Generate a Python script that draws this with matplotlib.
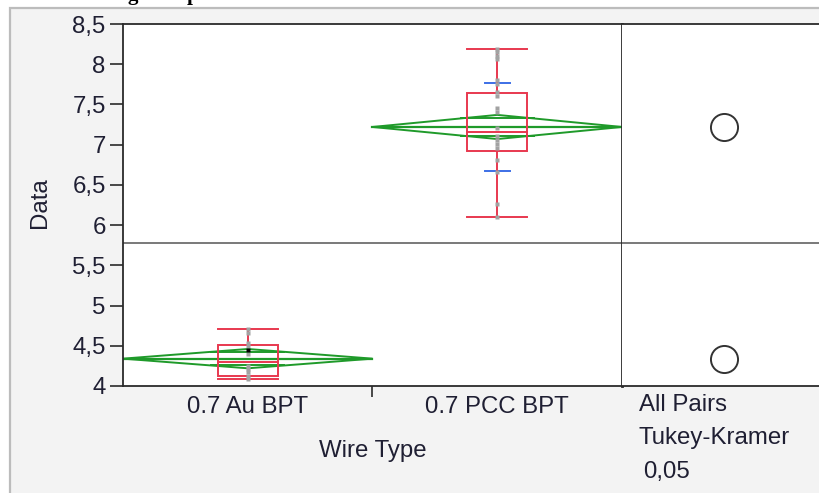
import matplotlib.pyplot as plt
from matplotlib.patches import Rectangle, Polygon
import numpy as np

plt.rcParams['font.family'] = ['Liberation Sans', 'DejaVu Sans']

groups = ['0.7 Au BPT', '0.7 PCC BPT']

# raw points
au_points = [4.71, 4.66, 4.53, 4.50, 4.40, 4.25, 4.21, 4.17, 4.13, 4.09]
au_selected = [4.45]
pcc_points = [8.19, 8.15, 8.10, 8.06, 7.81, 7.76, 7.66, 7.60, 7.46, 7.41,
              7.21, 7.11, 7.06, 7.01, 6.96, 6.81, 6.66, 6.26, 6.10]

# summary stats per group
means = [4.34, 7.22]
ci_half = [0.12, 0.15]
sd = [None, 0.55]   # std dev marks only visible for PCC
q1 = [4.12, 6.92]
median = [4.30, 7.16]
q3 = [4.51, 7.64]
whisk_lo = [4.09, 6.10]
whisk_hi = [4.71, 8.19]
grand_mean = 5.78

yticks = np.arange(4, 8.51, 0.5)
side_text = ['All Pairs', 'Tukey-Kramer', '0,05']

W, H = 820, 493
txt = '#1f1f33'
green = '#1f9a2a'
red = '#e8384f'
blue = '#3d6fe6'
fs = 17.3


def box(x0, y0, x1, y1):
    # pixel box (top-left origin) -> figure fraction rect
    return [x0 / W, 1 - y1 / H, (x1 - x0) / W, (y1 - y0) / H]


fig = plt.figure(figsize=(W / 100, H / 100), dpi=100)
fig.patch.set_facecolor('white')
fig.add_artist(Rectangle((10 / W, -0.02), 1.0, 1 - 8 / H + 0.02, transform=fig.transFigure,
                         facecolor='#f3f3f3', edgecolor='#bcbcbc', linewidth=1.6, zorder=0))

# cut-off report title, only descenders visible
fig.text(133 / W, 1.0, 'g', fontsize=15, fontweight='bold', family='Liberation Serif',
         ha='center', va='baseline', color='black')
fig.text(193 / W, 1.0, 'p', fontsize=15, fontweight='bold', family='Liberation Serif',
         ha='center', va='baseline', color='black')

ax = fig.add_axes(box(123, 24, 622, 386))
ax2 = fig.add_axes(box(622, 24, 826, 386))
for a in (ax, ax2):
    a.set_facecolor('white')
    a.set_ylim(4, 8.5)
    for s in a.spines.values():
        s.set_color('#2a2a2a')
        s.set_linewidth(1.3)
    a.axhline(grand_mean, color='#555555', lw=1.1, zorder=1)

ax.set_xlim(0, 2)
ax.spines['right'].set_linewidth(2)
ax2.spines['left'].set_visible(False)
ax2.spines['right'].set_visible(False)
ax2.set_xlim(0, 1)
ax2.set_xticks([])
ax2.set_yticks([])

for i, g in enumerate(groups):
    c = i + 0.5
    m, h = means[i], ci_half[i]
    # means diamond
    ax.add_patch(Polygon([[i, m], [c, m + h], [i + 1, m], [c, m - h]], closed=True,
                         fill=False, edgecolor=green, lw=1.4, zorder=2))
    ax.plot([i, i + 1], [m, m], color=green, lw=1.6, zorder=2)
    k = h / np.sqrt(2)
    hw = 0.5 * (1 - 1 / np.sqrt(2))
    for yy in (m + k, m - k):
        ax.plot([c - hw, c + hw], [yy, yy], color=green, lw=1.4, zorder=2)
    # std dev marks
    if sd[i] is not None:
        for yy in (m + sd[i], m - sd[i]):
            ax.plot([c - 0.05, c + 0.05], [yy, yy], color=blue, lw=1.4, zorder=3)
    # box plot
    bw = 0.12
    ax.add_patch(Rectangle((c - bw, q1[i]), 2 * bw, q3[i] - q1[i], fill=False,
                           edgecolor=red, lw=1.4, zorder=4))
    ax.plot([c - bw, c + bw], [median[i], median[i]], color=red, lw=1.4, zorder=4)
    ax.plot([c, c], [q3[i], whisk_hi[i]], color=red, lw=1.4, zorder=4)
    ax.plot([c, c], [q1[i], whisk_lo[i]], color=red, lw=1.4, zorder=4)
    for yy in (whisk_lo[i], whisk_hi[i]):
        ax.plot([c - bw, c + bw], [yy, yy], color=red, lw=1.4, zorder=4)

ax.plot([0.5] * len(au_points), au_points, 's', ms=3.2, color='#a2a2a2', mec='none', zorder=5)
ax.plot([0.5] * len(au_selected), au_selected, 's', ms=3.2, color='black', mec='none', zorder=5)
ax.plot([1.5] * len(pcc_points), pcc_points, 's', ms=3.2, color='#a2a2a2', mec='none', zorder=5)

# comparison circles
ax2.plot([0.5, 0.5], means, 'o', ms=19.5, mfc='none', mec='#333333', mew=1.4, clip_on=False)

ax.set_yticks(yticks)
ax.set_yticklabels([f'{v:g}'.replace('.', ',') for v in yticks])
ax.tick_params(axis='y', direction='out', length=9.5, width=1.2, pad=3,
               labelsize=fs, labelcolor=txt, color='#2a2a2a')
ax.set_xticks([1])
ax.set_xticklabels([''])
ax.set_xticks([0.5, 1.5], minor=True)
ax.set_xticklabels(groups, minor=True)
ax.tick_params(axis='x', which='major', direction='out', length=8, width=1.2, color='#2a2a2a')
ax.tick_params(axis='x', which='minor', length=0, pad=7, labelsize=fs, labelcolor=txt)

fig.text(373 / W, 1 - 451 / H, 'Wire Type', fontsize=fs, color=txt, ha='center', va='center')
fig.text(40 / W, 1 - 203 / H, 'Data', fontsize=fs, color=txt, ha='center', va='center',
         rotation=90)
for j, (t, yy) in enumerate(zip(side_text, [405, 438, 472])):
    fig.text((639 if j < 2 else 643) / W, 1 - yy / H, t, fontsize=fs, color=txt,
             ha='left', va='center')

fig.savefig('out.png', dpi=100, facecolor=fig.get_facecolor())
